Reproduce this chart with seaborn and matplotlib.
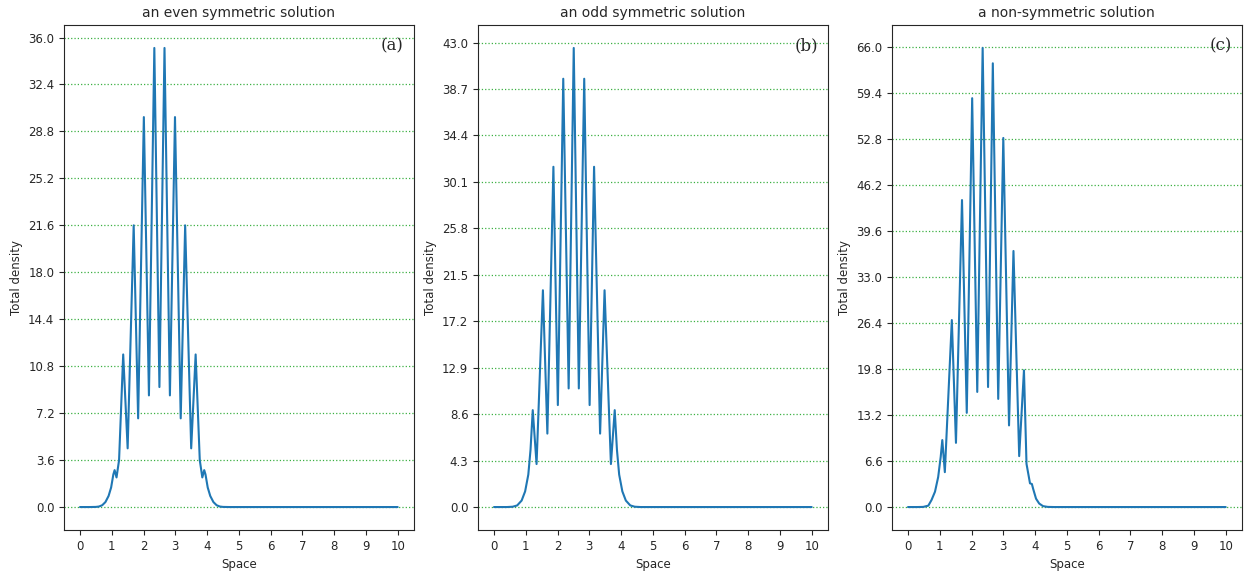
import matplotlib
matplotlib.use("Agg")
import matplotlib.pyplot as plt
import seaborn as sns

# ---- data ----
titles = ["an even symmetric solution", "an odd symmetric solution", "a non-symmetric solution"]
panel_tags = ["(a)", "(b)", "(c)"]
x_ticks = [0, 1, 2, 3, 4, 5, 6, 7, 8, 9, 10]

even_x = [0.00, 0.30, 0.50, 0.60, 0.70, 0.80, 0.90, 0.98, 1.05, 1.09,
          1.15, 1.23, 1.36, 1.50, 1.69, 1.83, 2.01, 2.17, 2.34, 2.50,
          2.66, 2.83, 2.99, 3.17, 3.31, 3.50, 3.64, 3.77, 3.85, 3.91,
          3.95, 4.02, 4.10, 4.20, 4.30, 4.40, 4.50, 4.70, 6.00, 8.00, 10.00]
even_y = [0.00, 0.00, 0.01, 0.04, 0.14, 0.38, 0.85, 1.50, 2.50, 2.83,
          2.27, 3.60, 11.7, 4.50, 21.6, 6.80, 29.9, 8.56, 35.2, 9.20,
          35.2, 8.56, 29.9, 6.80, 21.6, 4.50, 11.7, 3.60, 2.27, 2.83,
          2.50, 1.50, 0.85, 0.38, 0.14, 0.04, 0.01, 0.00, 0.00, 0.00, 0.00]

odd_x = [0.00, 0.20, 0.41, 0.59, 0.73, 0.87, 0.98, 1.08, 1.15, 1.22,
         1.34, 1.54, 1.68, 1.87, 2.01, 2.18, 2.35, 2.51, 2.67, 2.84,
         3.01, 3.15, 3.34, 3.48, 3.68, 3.80, 3.87, 3.94, 4.04, 4.15,
         4.29, 4.43, 4.61, 6.00, 8.00, 10.00]
odd_y = [0.00, 0.00, 0.00, 0.03, 0.15, 0.60, 1.45, 3.00, 5.30, 8.97,
         3.98, 20.07, 6.80, 31.5, 9.44, 39.65, 10.98, 42.5, 10.98, 39.65,
         9.44, 31.5, 6.80, 20.07, 3.98, 8.97, 5.30, 3.00, 1.45, 0.60,
         0.15, 0.03, 0.00, 0.00, 0.00, 0.00]

nonsym_x = [0.00, 0.30, 0.48, 0.64, 0.74, 0.85, 0.95, 1.03, 1.08, 1.16,
            1.38, 1.51, 1.70, 1.85, 2.02, 2.18, 2.35, 2.52, 2.67, 2.84,
            3.00, 3.18, 3.32, 3.50, 3.65, 3.73, 3.84, 3.90, 3.94, 4.03,
            4.13, 4.25, 4.40, 4.60, 6.00, 8.00, 10.00]
nonsym_y = [0.00, 0.00, 0.02, 0.20, 1.00, 2.20, 4.30, 7.20, 9.60, 5.00,
            26.8, 9.20, 44.0, 13.5, 58.6, 16.5, 65.8, 17.2, 63.6, 15.5,
            52.9, 11.7, 36.7, 7.30, 19.6, 6.20, 3.40, 3.30, 2.60, 1.20,
            0.50, 0.13, 0.02, 0.00, 0.00, 0.00, 0.00]

even_yticks = [0.0, 3.6, 7.2, 10.8, 14.4, 18.0, 21.6, 25.2, 28.8, 32.4, 36.0]
odd_yticks = [0.0, 4.3, 8.6, 12.9, 17.2, 21.5, 25.8, 30.1, 34.4, 38.7, 43.0]
nonsym_yticks = [0.0, 6.6, 13.2, 19.8, 26.4, 33.0, 39.6, 46.2, 52.8, 59.4, 66.0]

series = [(even_x, even_y, even_yticks),
          (odd_x, odd_y, odd_yticks),
          (nonsym_x, nonsym_y, nonsym_yticks)]

# ---- drawing ----
sns.set_style("ticks")
plt.rcParams['font.family'] = ['DejaVu Sans']

W, H = 1251, 571
fig = plt.figure(figsize=(W / 100, H / 100), dpi=100)
lefts = [64.1, 478.1, 892.1]

for i, (xs, ys, yt) in enumerate(series):
    ax = fig.add_axes([lefts[i] / W, 41 / H, 349.5 / W, 505 / H])
    sns.lineplot(x=xs, y=ys, ax=ax, color='#1f77b4', linewidth=1.5, sort=False)
    ax.set_xticks(x_ticks)
    ax.set_yticks(yt)
    ax.set_yticklabels([f"{v:.1f}" for v in yt])
    ax.yaxis.grid(True, color='#3cb043', linestyle=':', linewidth=0.9)
    ax.xaxis.grid(False)
    ax.set_title(titles[i], fontsize=10)
    ax.set_xlabel('Space', fontsize=8.5)
    ax.set_ylabel('Total density', fontsize=8.5)
    ax.tick_params(labelsize=8.5)
    ax.text(0.972, 0.976, panel_tags[i], transform=ax.transAxes, ha='right', va='top',
            fontsize=12, family=['DejaVu Serif'], color='.15')

fig.savefig('out.png', dpi=100)
